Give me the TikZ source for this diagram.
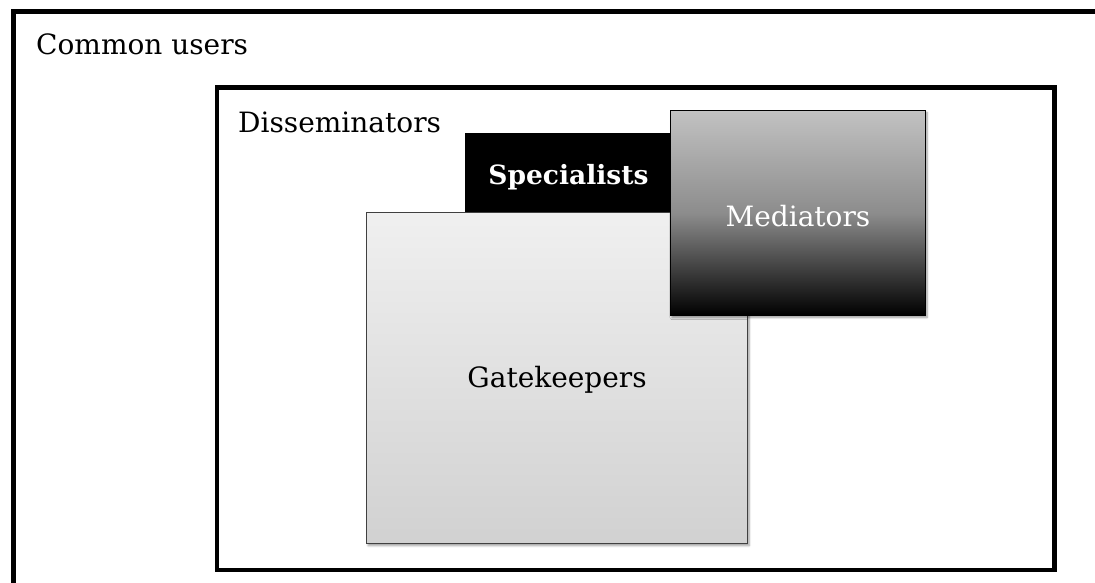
\documentclass[tikz,border=0pt]{standalone}
\usepackage{fontspec}
\setmainfont{DejaVu Serif}
\usetikzlibrary{shadows.blur}
\tikzset{
  frame/.style={draw=black, line width=4.5pt, rectangle, inner sep=0pt},
  lbl/.style={font=\fontsize{28}{30}\selectfont, inner sep=0pt},
  boxshadow/.style={blur shadow={shadow xshift=1.5pt, shadow yshift=-2pt, shadow blur steps=6, shadow opacity=40}},
}
\begin{document}
\begin{tikzpicture}[x=1pt,y=-1pt]
\useasboundingbox (0,0) rectangle (1095,583);
\clip (0,0) rectangle (1095,583);
% outer frame (extends past the right and bottom edges)
\node[frame, minimum width=1089pt, minimum height=580pt, anchor=north west] (common) at (11,9.5) {};
\node[lbl, anchor=base west] (commonlbl) at (36,55) {Common users};
% disseminators frame
\node[frame, minimum width=837.5pt, minimum height=482pt, anchor=north west] (diss) at (214.5,85.5) {};
\node[lbl, anchor=base west] (disslbl) at (238,132) {Disseminators};
% specialists
\node[rectangle, fill=black, draw=black, minimum width=215pt, minimum height=90pt, anchor=north west, inner sep=0pt] (spec) at (465,133) {};
\node[lbl, text=white, font=\fontsize{26.5}{30}\selectfont\bfseries] (speclbl) at (568.5,177) {Specialists};
% gatekeepers
\node[rectangle, draw=black!75, line width=1.2pt, top color=black!6, bottom color=black!18, boxshadow,
      minimum width=381pt, minimum height=331pt, anchor=north west, inner sep=0pt] (gate) at (366,212) {};
\node[lbl] (gatelbl) at ([yshift=-2pt]gate.center) {Gatekeepers};
% mediators
\node[rectangle, draw=black, line width=1pt, top color=black!24, bottom color=black, middle color=black!45, boxshadow,
      minimum width=255pt, minimum height=205pt, anchor=north west, inner sep=0pt] (med) at (670,110) {};
\node[lbl, text=white] (medlbl) at ([yshift=-3pt]med.center) {Mediators};
\end{tikzpicture}
\end{document}
